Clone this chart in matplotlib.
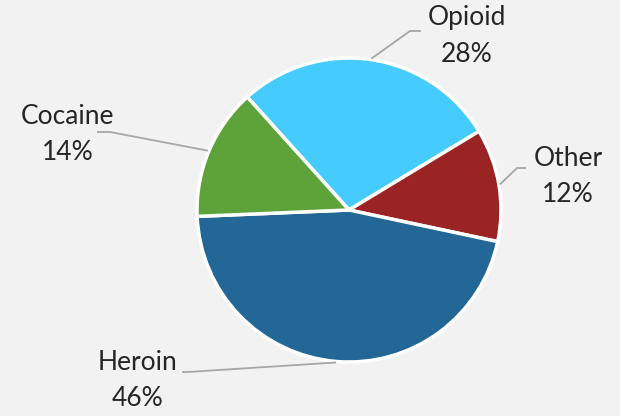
import numpy as np
import matplotlib.pyplot as plt

categories = ['Opioid', 'Other', 'Heroin', 'Cocaine']
shares = [28, 12, 46, 14]
colors = ['#45CBFC', '#9A2423', '#236796', '#5DA33A']

# label placement (pixel coords, y from top) and leader elbow/end points
label_pos = {'Opioid': (467, 36), 'Other': (568, 176), 'Cocaine': (68, 135), 'Heroin': (138, 381)}
elbows = {'Opioid': [(410, 31), (421, 31)], 'Other': [(517, 168), (526, 168)],
          'Cocaine': [(110, 132), (97, 132)], 'Heroin': [(188, 372), (182, 372)]}

W, H = 620, 416
bg = '#F2F2F2'
fig = plt.figure(figsize=(W / 100, H / 100), dpi=100, facecolor=bg)
ax = fig.add_axes([0, 0, 1, 1])
ax.set_facecolor(bg)

cx, cy, r = 349, H - 210, 152
start = 132
wedges, _ = ax.pie(shares, colors=colors, startangle=start, counterclock=False,
                   center=(cx, cy), radius=r, frame=True,
                   wedgeprops=dict(edgecolor='white', linewidth=2.5))
ax.set_xlim(0, W)
ax.set_ylim(0, H)
ax.set_aspect('equal')
ax.axis('off')

total = sum(shares)
ang = start
for cat, v in zip(categories, shares):
    span = 360 * v / total
    mid = np.deg2rad(ang - span / 2)
    ang -= span
    x0, y0 = cx + (r + 1) * np.cos(mid), cy + (r + 1) * np.sin(mid)
    pts = [(x0, y0)] + [(px, H - py) for px, py in elbows[cat]]
    ax.plot([p[0] for p in pts], [p[1] for p in pts], color='#A6A6A6', lw=1.3,
            solid_capstyle='butt')
    lx, ly = label_pos[cat]
    ax.text(lx, H - ly, f'{cat}\n{v}%', ha='center', va='center', fontsize=19,
            family='Lato', color='#262626', linespacing=1.55)

fig.savefig('out.png', dpi=100, facecolor=bg)
